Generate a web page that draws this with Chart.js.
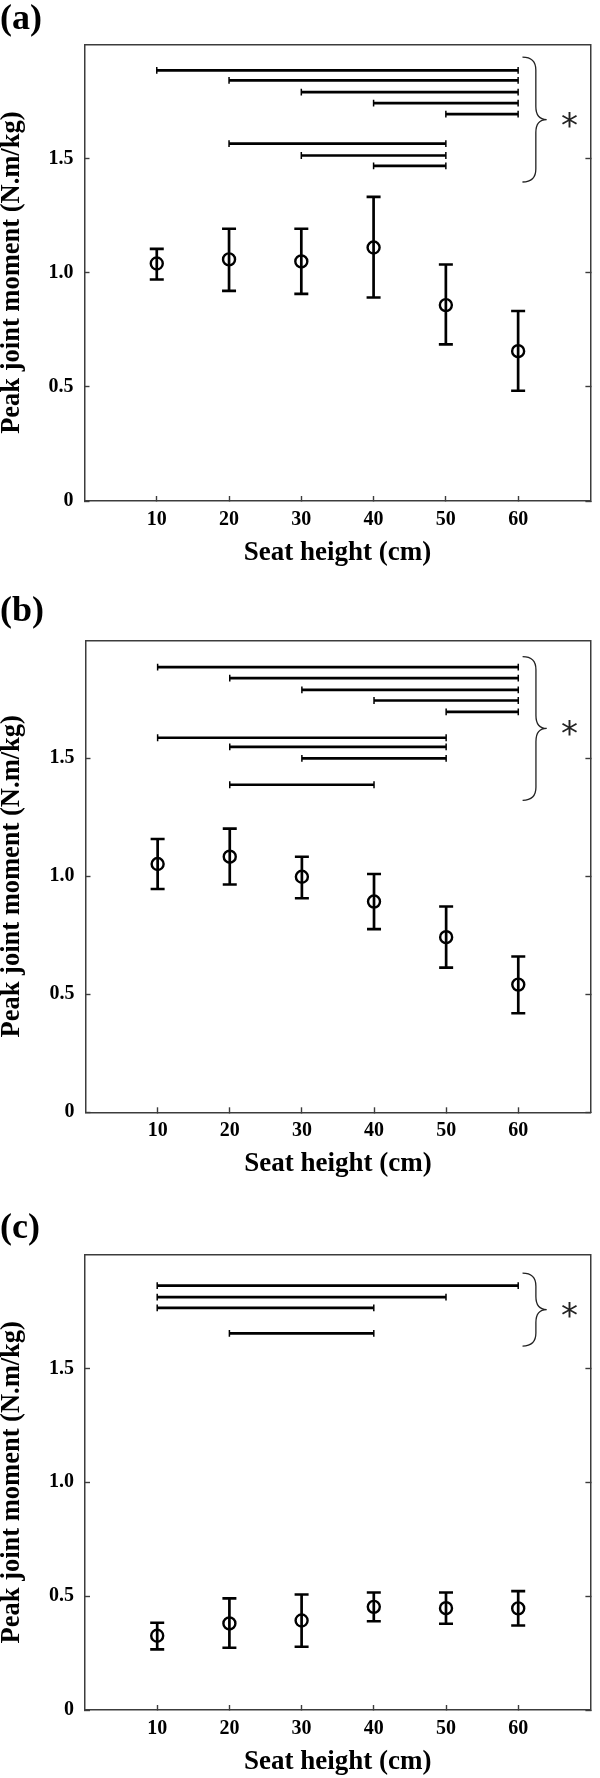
<!DOCTYPE html>
<html>
<head>
<meta charset="utf-8">
<script src="https://cdn.jsdelivr.net/npm/chart.js@4.4.1/dist/chart.umd.min.js"></script>
<style>
html,body{margin:0;padding:0;background:#fff;}
#wrap{position:relative;width:600px;height:1778px;overflow:hidden;}
canvas{position:absolute;left:0;display:block;}
</style>
</head>
<body>
<div id="wrap">
<canvas id="panelA" width="600" height="580" style="top:0px;width:600px;height:580px"></canvas>
<canvas id="panelB" width="600" height="610" style="top:580px;width:600px;height:610px"></canvas>
<canvas id="panelC" width="600" height="588" style="top:1190px;width:600px;height:588px"></canvas>
</div>
<script>
// ---------------- data ----------------
const seatHeights = [10, 20, 30, 40, 50, 60];
const xTickValues = [10, 20, 30, 40, 50, 60];
const yTickValues = [0, 0.5, 1.0, 1.5];
const yTickLabels = ['0', '0.5', '1.0', '1.5'];
const panelLabels = ['(a)', '(b)', '(c)'];
const xTitle = 'Seat height (cm)';
const yTitle = 'Peak joint moment (N.m/kg)';

// panel (a)
const meanA  = [1.040, 1.058, 1.049, 1.110, 0.858, 0.656];
const upperA = [1.104, 1.192, 1.192, 1.332, 1.036, 0.832];
const lowerA = [0.970, 0.920, 0.907, 0.891, 0.686, 0.483];
const sigFromA  = [10, 20, 30, 40, 50, 20, 30, 40];
const sigToA    = [60, 60, 60, 60, 60, 50, 50, 50];
const sigLevelA = [1.886, 1.842, 1.791, 1.742, 1.694, 1.565, 1.513, 1.468];
const braceSpanA = [1.944, 1.397];

// panel (b)
const meanB  = [1.052, 1.083, 0.998, 0.893, 0.742, 0.541];
const upperB = [1.158, 1.202, 1.083, 1.010, 0.872, 0.660];
const lowerB = [0.946, 0.965, 0.907, 0.776, 0.613, 0.420];
const sigFromB  = [10, 20, 30, 40, 50, 10, 20, 30, 20];
const sigToB    = [60, 60, 60, 60, 60, 50, 50, 50, 40];
const sigLevelB = [1.886, 1.840, 1.790, 1.745, 1.697, 1.587, 1.548, 1.500, 1.388];
const braceSpanB = [1.931, 1.322];

// panel (c)
const meanC  = [0.326, 0.380, 0.393, 0.453, 0.447, 0.446];
const upperC = [0.383, 0.490, 0.507, 0.516, 0.516, 0.522];
const lowerC = [0.266, 0.273, 0.278, 0.390, 0.379, 0.371];
const sigFromC  = [10, 10, 10, 20];
const sigToC    = [60, 50, 40, 40];
const sigLevelC = [1.863, 1.813, 1.766, 1.654];
const braceSpanC = [1.918, 1.598];

// ---------------- helpers ----------------
const SERIF = '"Liberation Serif", "Times New Roman", Times, serif';
const AX = '#3c3c3c';

function errorBarData(xs, lo, hi) {
  const pts = [];
  xs.forEach((x, i) => { pts.push({x: x, y: lo[i]}, {x: x, y: hi[i]}, {x: x, y: null}); });
  return pts;
}
function sigBarData(from, to, level) {
  const pts = [];
  from.forEach((f, i) => { pts.push({x: f, y: level[i]}, {x: to[i], y: level[i]}, {x: to[i], y: null}); });
  return pts;
}

const bracePlugin = {
  id: 'sigBrace',
  afterDatasetsDraw(chart, args, opts) {
    const {ctx} = chart;
    const x = chart.scales.x, y = chart.scales.y;
    const yt = y.getPixelForValue(opts.span[0]);
    const yb = y.getPixelForValue(opts.span[1]);
    const ym = (yt + yb) / 2;
    const x0 = x.getPixelForValue(opts.xEnd);
    const xs = x.getPixelForValue(opts.xSpine);
    const xt = x.getPixelForValue(opts.xTip);
    const r = Math.min(13, (yb - yt) / 4);
    ctx.save();
    ctx.strokeStyle = opts.color;
    ctx.lineWidth = opts.width;
    ctx.beginPath();
    ctx.moveTo(x0, yt);
    ctx.quadraticCurveTo(xs, yt, xs, yt + r);
    ctx.lineTo(xs, ym - r);
    ctx.quadraticCurveTo(xs, ym, xt, ym);
    ctx.quadraticCurveTo(xs, ym, xs, ym + r);
    ctx.lineTo(xs, yb - r);
    ctx.quadraticCurveTo(xs, yb, x0, yb);
    ctx.stroke();
    ctx.font = opts.starFont;
    ctx.fillStyle = opts.color;
    ctx.textAlign = 'center';
    ctx.textBaseline = 'alphabetic';
    const m = ctx.measureText('*');
    const sx = x.getPixelForValue(opts.xStar);
    ctx.fillText('*', sx, ym + (m.actualBoundingBoxAscent - m.actualBoundingBoxDescent) / 2);
    ctx.restore();
  }
};

function makePanel(id, label, g, d) {
  const tickFont = {family: SERIF, size: 20, weight: 'bold'};
  new Chart(document.getElementById(id), {
    type: 'line',
    data: {
      datasets: [
        {
          label: 'significance',
          data: sigBarData(d.sigFrom, d.sigTo, d.sigLevel),
          borderColor: '#000', borderWidth: 2.7, tension: 0, fill: false,
          pointStyle: 'line', pointRotation: 90, pointRadius: 3.4,
          pointBorderWidth: 1.5, pointBorderColor: '#000', pointBackgroundColor: '#000'
        },
        {
          label: 'sd',
          data: errorBarData(seatHeights, d.lower, d.upper),
          borderColor: '#000', borderWidth: 2.7, tension: 0, fill: false,
          pointStyle: 'line', pointRotation: 0, pointRadius: 7,
          pointBorderWidth: 2.6, pointBorderColor: '#000', pointBackgroundColor: '#000'
        },
        {
          label: 'mean',
          data: seatHeights.map((x, i) => ({x: x, y: d.mean[i]})),
          showLine: false,
          pointStyle: 'circle', pointRadius: 6, pointBorderWidth: 2.4,
          pointBorderColor: '#000', pointBackgroundColor: 'rgba(0,0,0,0)'
        }
      ]
    },
    options: {
      responsive: false,
      animation: false,
      events: [],
      layout: {padding: {left: 0, right: 600 - g.right, top: 0, bottom: 0}},
      plugins: {
        legend: {display: false},
        tooltip: {enabled: false},
        title: {
          display: true, text: label, align: 'start', color: '#000',
          font: {family: SERIF, size: 36, weight: 'bold', lineHeight: 1},
          padding: {top: g.labelY - 18, bottom: g.top - g.labelY - 18}
        },
        sigBrace: {
          span: d.brace, xEnd: 60.6, xSpine: 62.45, xTip: 63.95, xStar: 67.1,
          color: '#222', width: 1.3, starFont: '34px "DejaVu Sans"'
        }
      },
      scales: {
        x: {
          type: 'linear', position: 'bottom', min: 0, max: 70,
          afterBuildTicks: s => { s.ticks = xTickValues.map(v => ({value: v})); },
          afterFit: s => { s.height = g.h - g.bottom; },
          ticks: {padding: 12, color: '#000', font: tickFont, autoSkip: false, maxRotation: 0,
                  callback: v => String(v)},
          grid: {display: true, drawOnChartArea: false, drawTicks: true, tickLength: -5, tickWidth: 1.4, tickColor: AX},
          border: {display: true, color: AX, width: 1.5},
          title: {display: true, text: xTitle, color: '#000',
                  font: {family: SERIF, size: 27, weight: 'bold', lineHeight: 1.2},
                  padding: {top: 0, bottom: Math.max(0, (g.h - g.bottom) - 52 - 16.2)}}
        },
        x2: {
          type: 'linear', position: 'top', min: 0, max: 70,
          ticks: {display: false}, grid: {display: false},
          border: {display: true, color: AX, width: 1.5},
          afterFit: s => { s.height = 0; }
        },
        y: {
          type: 'linear', position: 'left', min: 0, max: 2,
          afterBuildTicks: s => { s.ticks = yTickValues.map(v => ({value: v})); },
          afterFit: s => { s.width = g.left; },
          ticks: {padding: 16, color: '#000', font: tickFont,
                  callback: v => yTickLabels[yTickValues.indexOf(v)]},
          grid: {display: true, drawOnChartArea: false, drawTicks: true, tickLength: -5, tickWidth: 1.4, tickColor: AX},
          border: {display: true, color: AX, width: 1.5},
          title: {display: true, text: yTitle, color: '#000',
                  font: {family: SERIF, size: 26.5, weight: 'bold', lineHeight: 0.9},
                  padding: 0}
        },
        y2: {
          type: 'linear', position: 'right', min: 0, max: 2,
          afterBuildTicks: s => { s.ticks = yTickValues.map(v => ({value: v})); },
          afterFit: s => { s.width = 0; },
          ticks: {display: false},
          grid: {display: true, drawOnChartArea: false, drawTicks: true, tickLength: -5, tickWidth: 1.4, tickColor: AX},
          border: {display: true, color: AX, width: 1.5}
        }
      }
    },
    plugins: [bracePlugin]
  });
}

makePanel('panelA', panelLabels[0],
  {h: 580, top: 44.3, bottom: 501, left: 84.5, right: 598.2, labelY: 20},
  {mean: meanA, upper: upperA, lower: lowerA, sigFrom: sigFromA, sigTo: sigToA, sigLevel: sigLevelA, brace: braceSpanA});
makePanel('panelB', panelLabels[1],
  {h: 610, top: 60.3, bottom: 532.3, left: 85.5, right: 599, labelY: 31.5},
  {mean: meanB, upper: upperB, lower: lowerB, sigFrom: sigFromB, sigTo: sigToB, sigLevel: sigLevelB, brace: braceSpanB});
makePanel('panelC', panelLabels[2],
  {h: 588, top: 64.5, bottom: 520, left: 85, right: 598.5, labelY: 38.5},
  {mean: meanC, upper: upperC, lower: lowerC, sigFrom: sigFromC, sigTo: sigToC, sigLevel: sigLevelC, brace: braceSpanC});
</script>
</body>
</html>
